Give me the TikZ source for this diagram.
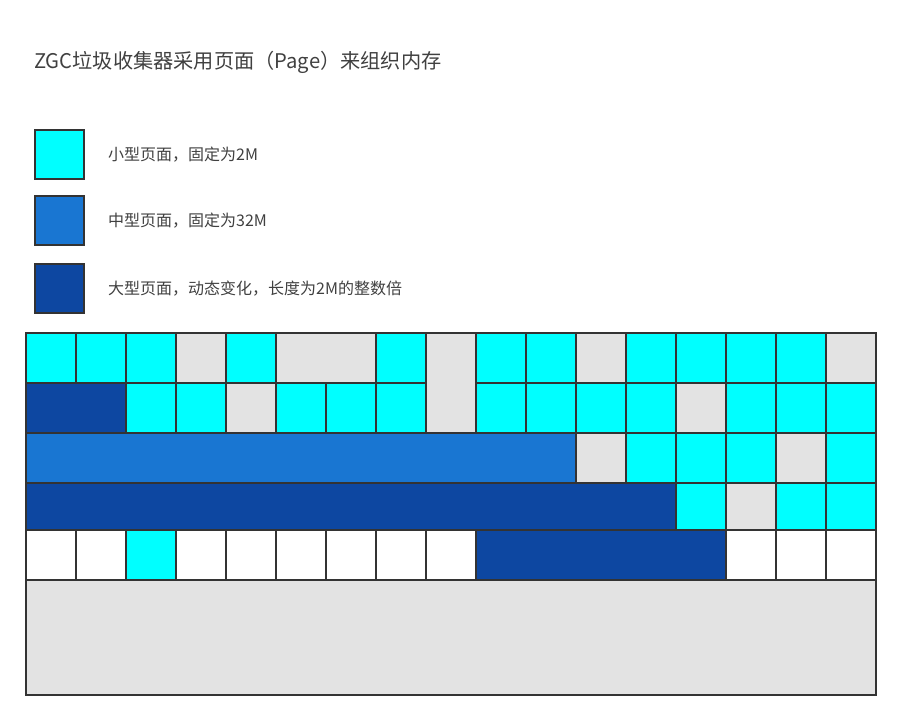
\documentclass[tikz,border=0pt]{standalone}
\usepackage{fontspec}
\setmainfont{Noto Sans CJK SC}
\usepackage{xcolor}
\usetikzlibrary{positioning}
\definecolor{pgSmall}{HTML}{00FFFF}
\definecolor{pgMedium}{HTML}{1976D2}
\definecolor{pgLarge}{HTML}{0D47A1}
\definecolor{pgFree}{HTML}{E3E3E3}
\definecolor{edgecol}{HTML}{333333}
\definecolor{txtcol}{HTML}{404040}

\begin{document}
\begin{tikzpicture}[x=1pt, y=-1pt,
  cell/.style={draw=edgecol, line width=1.3pt},
  smallpg/.style={cell, fill=pgSmall},
  medpg/.style={cell, fill=pgMedium},
  largepg/.style={cell, fill=pgLarge},
  freepg/.style={cell, fill=pgFree},
  emptypg/.style={cell, fill=white},
  legbox/.style={draw=edgecol, line width=2pt, minimum size=49pt,
    inner sep=0pt, anchor=north west},
  legtext/.style={font=\fontsize{16}{19}\selectfont, text=txtcol,
    inner sep=0pt},
  title/.style={font=\fontsize{20.2}{24}\selectfont, text=txtcol,
    inner sep=0pt, anchor=west},
]
\useasboundingbox (0,0) rectangle (901,721);

% Title
\node[title] (title) at (34,62) {ZGC垃圾收集器采用页面（Page）来组织内存};

% Legend
\node[legbox, fill=pgSmall]  (legS) at (34,129) {};
\node[legbox, fill=pgMedium] (legM) at (34,195) {};
\node[legbox, fill=pgLarge]  (legL) at (34,263) {};
\node[legtext, right=23pt of legS] (txtS) {小型页面，固定为2M};
\node[legtext, right=23pt of legM] (txtM) {中型页面，固定为32M};
\node[legtext, right=23pt of legL] (txtL) {大型页面，动态变化，长度为2M的整数倍};

% Row 1
\foreach \c in {0,1,2,4,7,9,10,12,13,14,15}
  \draw[smallpg] ({26+50*\c},333) rectangle ++(50,50);
\foreach \c in {3,11,16}
  \draw[freepg] ({26+50*\c},333) rectangle ++(50,50);
\draw[freepg] (276,333) rectangle (376,383);
\draw[freepg] (426,333) rectangle (476,433);

% Row 2
\draw[largepg] (26,383) rectangle (126,433);
\foreach \c in {2,3,5,6,7,9,10,11,12,14,15,16}
  \draw[smallpg] ({26+50*\c},383) rectangle ++(50,50);
\foreach \c in {4,13}
  \draw[freepg] ({26+50*\c},383) rectangle ++(50,50);

% Row 3
\draw[medpg] (26,433) rectangle (576,483);
\foreach \c in {12,13,14,16}
  \draw[smallpg] ({26+50*\c},433) rectangle ++(50,50);
\foreach \c in {11,15}
  \draw[freepg] ({26+50*\c},433) rectangle ++(50,50);

% Row 4
\draw[largepg] (26,483) rectangle (676,530);
\foreach \c in {13,15,16}
  \draw[smallpg] ({26+50*\c},483) rectangle ++(50,47);
\draw[freepg] (726,483) rectangle (776,530);

% Row 5
\foreach \c in {0,1,3,4,5,6,7,8,14,15,16}
  \draw[emptypg] ({26+50*\c},530) rectangle ++(50,50);
\draw[smallpg] (126,530) rectangle (176,580);
\draw[largepg] (476,530) rectangle (726,580);

% Unused space
\draw[freepg] (26,580) rectangle (876,695);

% Outer frame
\draw[edgecol, line width=2pt] (26,333) rectangle (876,695);

\end{tikzpicture}
\end{document}
